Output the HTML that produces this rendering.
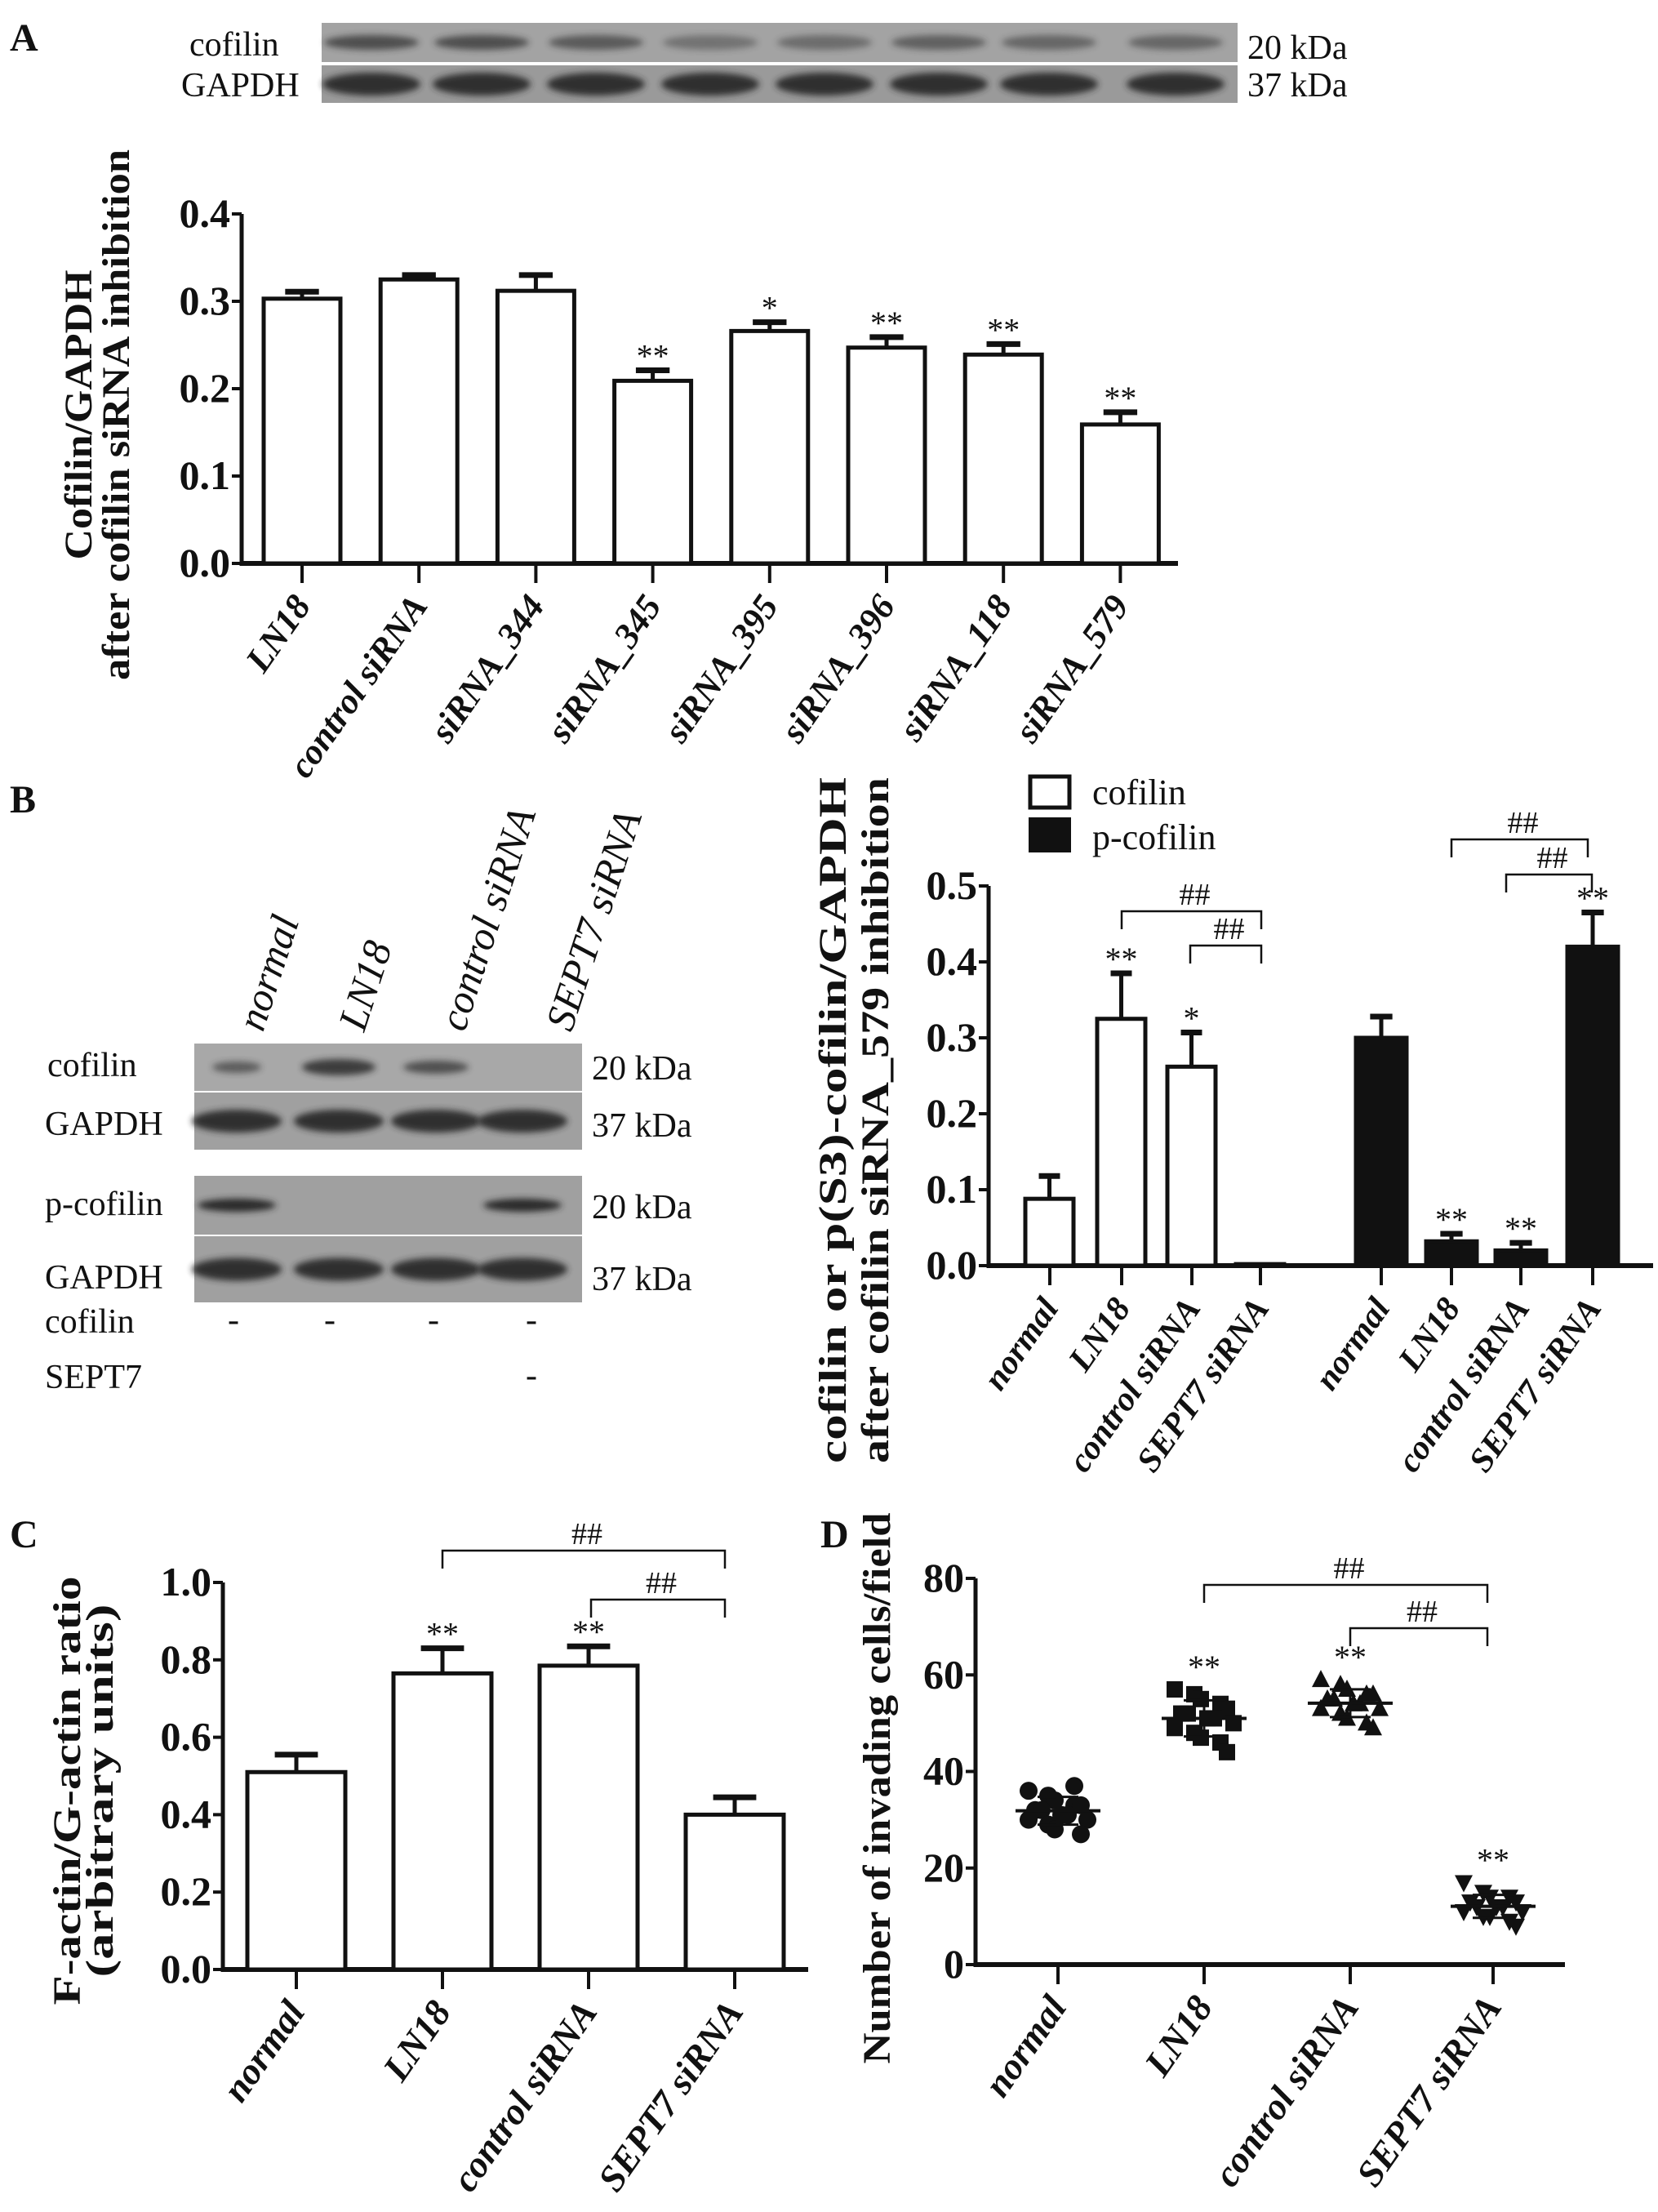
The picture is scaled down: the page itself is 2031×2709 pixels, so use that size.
<!DOCTYPE html>
<html><head><meta charset="utf-8"><style>
html,body{margin:0;padding:0;background:#fff}
svg{display:block}
text{font-family:"Liberation Serif","Times New Roman",serif;fill:#111}
</style></head><body>
<svg id="fig" width="2031" height="2709" viewBox="0 0 2031 2709" xmlns="http://www.w3.org/2000/svg" font-family="Liberation Serif, Times New Roman, serif">
<defs><filter id="blur" x="-20%" y="-50%" width="140%" height="200%"><feGaussianBlur stdDeviation="4"/></filter></defs>
<text x="12" y="62" font-size="48" font-weight="bold">A</text>
<text x="12" y="995" font-size="48" font-weight="bold">B</text>
<text x="12" y="1895" font-size="48" font-weight="bold">C</text>
<text x="1005" y="1895" font-size="48" font-weight="bold">D</text>
<g id="g"></g>
</svg>
<script>
const NS='http://www.w3.org/2000/svg';
const root=document.getElementById('g');
function mk(tag,a,p){const e=document.createElementNS(NS,tag);for(const k in a)e.setAttribute(k,a[k]);(p||root).appendChild(e);return e;}
function tx(s,a,p){const e=mk('text',a,p);e.textContent=s;return e;}

// ---------- data ----------
const catsA=['LN18','control siRNA','siRNA_344','siRNA_345','siRNA_395','siRNA_396','siRNA_118','siRNA_579'];
const valsA=[0.303,0.325,0.312,0.209,0.266,0.247,0.239,0.159];
const errsA=[0.008,0.005,0.018,0.012,0.010,0.012,0.012,0.014];
const sigA=['','','','**','*','**','**','**'];
const ticksA=['0.0','0.1','0.2','0.3','0.4'];

const catsB=['normal','LN18','control siRNA','SEPT7 siRNA'];
const cofB=[0.088,0.325,0.262,0.002];
const cofErrB=[0.030,0.060,0.045,0.0];
const cofSigB=['','**','*',''];
const pcofB=[0.300,0.032,0.020,0.420];
const pcofErrB=[0.028,0.010,0.010,0.045];
const pcofSigB=['','**','**','**'];
const ticksB=['0.0','0.1','0.2','0.3','0.4','0.5'];

const catsC=['normal','LN18','control siRNA','SEPT7 siRNA'];
const valsC=[0.51,0.765,0.785,0.40];
const errsC=[0.045,0.065,0.05,0.045];
const sigC=['','**','**',''];
const ticksC=['0.0','0.2','0.4','0.6','0.8','1.0'];

const catsD=['normal','LN18','control siRNA','SEPT7 siRNA'];
const ptsNormal=[36,35,34,33,33,32,32,31,31,30,30,29,28,37,27];
const ptsLN18=[57,56,55,54,53,52,52,51,51,50,49,48,47,46,44];
const ptsControl=[59,58,57,56,56,55,55,54,54,53,53,52,51,50,49];
const ptsSept7=[17,15,14,14,13,13,12,12,12,11,11,10,10,9,8];
const sigD=['','**','**','**'];
const ticksD=['0','20','40','60','80'];

// ---------- helpers ----------
function yAxis(x,y0,y1,ticks,maxV,fn,name){
  const ax=mk('line',{x1:x,y1:y0+3,x2:x,y2:y1,stroke:'#111','stroke-width':5});
  
  
  ticks.forEach(t=>{const v=parseFloat(t);const y=fn(v);
    const l=mk('line',{x1:x-12,y1:y,x2:x,y2:y,stroke:'#111','stroke-width':4});
    
    
    const s=tx(t,{x:x-14,y:y+16,'font-size':50,'font-weight':'bold','text-anchor':'end'});
    
    
  });
}
function xAxis(x0,x1,y,name){
  const ax=mk('line',{x1:x0,y1:y,x2:x1,y2:y,stroke:'#111','stroke-width':6});
  
  
}
function xTick(cx,y,label,name,fs,ang){
  const l=mk('line',{x1:cx,y1:y,x2:cx,y2:y+24,stroke:'#111','stroke-width':4});
  
  
  const s=tx(label,{x:cx+12,y:y+52,'font-size':fs,'font-weight':'bold','font-style':'italic','text-anchor':'end',transform:`rotate(${ang} ${cx+12} ${y+52})`});
  
  
}
function bar(left,w,v,e,sig,fn,fill,name){
  const y0=fn(0),yt=fn(v),ye=fn(v+e);
  const r=mk('rect',{x:left,y:yt,width:w,height:Math.max(y0-yt,2),fill:fill,stroke:'#111','stroke-width':5});
  
  
  if(e>0){const cx=left+w/2;
    const l=mk('line',{x1:cx,y1:yt,x2:cx,y2:ye,stroke:'#111','stroke-width':5});
    
    
    const c=mk('line',{x1:cx-w*0.22,y1:ye,x2:cx+w*0.22,y2:ye,stroke:'#111','stroke-width':7});
    
    }
  if(sig){const s=tx(sig,{x:left+w/2,y:ye-4,'font-size':40,'text-anchor':'middle'});
    
    }
}
function bracket(x1,x2,y,name){
  const p=mk('path',{d:`M${x1} ${y+22}V${y}H${x2}V${y+22}`,fill:'none',stroke:'#111','stroke-width':2.5});
  
  
  const s=tx('##',{x:(x1+x2)/2+4,y:y-8,'font-size':38,'text-anchor':'middle'});
  
  
}
function ytitle(lines,xs,cy,lens,name){
  lines.forEach((t,i)=>{const s=tx(t,{x:xs[i],y:cy,'font-size':48,'font-weight':'bold','text-anchor':'middle',textLength:lens[i],lengthAdjust:'spacingAndGlyphs',transform:`rotate(-90 ${xs[i]} ${cy})`});
    
    });
}
function blot(x,y,w,h,bands,name,bg){
  const r=mk('rect',{x:x,y:y,width:w,height:h,fill:bg||'#999'});
  
  
  bands.forEach(b=>{const e=mk('ellipse',{cx:b[0],cy:y+h/2,rx:b[1],ry:b[2],fill:'#2a2a2a',opacity:b[3],filter:'url(#blur)'});
    
    });
}
function lbl(s,x,y,fs,anchor,name){const t=tx(s,{x:x,y:y,'font-size':fs,'text-anchor':anchor||'start'});
  
  return t;}

// ---------- Panel A blot ----------
const lanesA=[455,590,730,870,1010,1150,1285,1440];
const cofInt=[0.7,0.7,0.6,0.4,0.45,0.55,0.5,0.5];
blot(394,28,1122,48,lanesA.map((c,i)=>[c,58,9,cofInt[i]]),'a-cofilin','#a3a3a3');
blot(394,80,1122,46,lanesA.map(c=>[c,60,14,0.95]),'a-gapdh','#9a9a9a');
lbl('cofilin',232,68,42,'start','a-cofilin-label');
lbl('GAPDH',222,118,42,'start','a-gapdh-label');
lbl('20 kDa',1528,72,42,'start','a-cofilin-kda');
lbl('37 kDa',1528,118,42,'start','a-gapdh-kda');

// ---------- Panel A chart ----------
const yA=v=>690-v/0.4*(690-262);
yAxis(296,690,262,ticksA,0.4,yA,'a');
xAxis(296,1443,690,'a');
catsA.forEach((c,i)=>{const left=323+i*143.2;bar(left,94,valsA[i],errsA[i],sigA[i],yA,'#fff','a-'+i);xTick(left+47,690,c,'a',44,-55);});
ytitle(['Cofilin/GAPDH','after cofilin siRNA inhibition'],[112,158],508,[355,650],'a');

// ---------- Panel B blot ----------
const lanesB=[290,415,534,640];
blot(238,1278,475,58,[[290,30,7,0.6],[415,45,10,0.85],[534,40,8,0.7]],'b-cofilin','#a8a8a8');
blot(238,1338,475,70,lanesB.map(c=>[c,55,14,0.95]),'b-gapdh1','#a0a0a0');
blot(238,1440,475,72,[[290,48,8,1],[640,48,8,1]],'b-pcofilin','#a0a0a0');
blot(238,1514,475,81,lanesB.map(c=>[c,55,14,0.95]),'b-gapdh2','#a0a0a0');
lbl('cofilin',58,1318,42,'start','b-cofilin-label');
lbl('GAPDH',55,1390,42,'start','b-gapdh-label');
lbl('p-cofilin',55,1488,42,'start','b-pcofilin-label');
lbl('GAPDH',55,1578,42,'start','b-gapdh2-label');
lbl('20 kDa',725,1322,42,'start','b-kda1');
lbl('37 kDa',725,1392,42,'start','b-kda2');
lbl('20 kDa',725,1492,42,'start','b-kda3');
lbl('37 kDa',725,1580,42,'start','b-kda4');
lbl('cofilin',55,1632,42,'start','b-row-cofilin');
lbl('SEPT7',55,1700,42,'start','b-row-sept7');
[286,404,531,651].forEach(x=>lbl('-',x,1630,42,'middle','b-dash'));
lbl('-',651,1698,42,'middle','b-dash');
[306,430,553,684].forEach((x,i)=>{const t=tx(catsB[i],{x:x+16,y:1265,'font-size':50,'font-style':'italic',transform:`rotate(-72 ${x+16} 1265)`});
  
  });

// ---------- Panel B chart ----------
const yB=v=>1550-v/0.5*(1550-1085);
yAxis(1211,1550,1085,ticksB,0.5,yB,'b');
xAxis(1211,2025,1550,'b');
const cofLeft=[1256,1344,1430,1514], pLeft=[1661,1747,1832,1920];
catsB.forEach((c,i)=>{bar(cofLeft[i],59,cofB[i],cofErrB[i],cofSigB[i],yB,'#fff','b-cofilin-'+i);xTick(cofLeft[i]+30,1550,c,'b',42,-55);});
catsB.forEach((c,i)=>{bar(pLeft[i],62,pcofB[i],pcofErrB[i],pcofSigB[i],yB,'#111','b-pcofilin-'+i);xTick(pLeft[i]+31,1550,c,'b',42,-55);});
bracket(1374,1545,1116,'b-cof-upper');bracket(1458,1545,1158,'b-cof-lower');
bracket(1778,1945,1028,'b-p-upper');bracket(1845,1950,1071,'b-p-lower');
const lg1=mk('rect',{x:1262,y:951,width:48,height:38,fill:'#fff',stroke:'#111','stroke-width':5});


const lg2=mk('rect',{x:1260,y:1001,width:52,height:43,fill:'#111'});


lbl('cofilin',1338,985,44,'start','legend-cofilin');
lbl('p-cofilin',1338,1040,44,'start','legend-pcofilin');
ytitle(['cofilin or p(S3)-cofilin/GAPDH','after cofilin siRNA_579 inhibition'],[1036,1088],1372,[840,840],'b');

// ---------- Panel C ----------
const yC=v=>2412-v*(2412-1938);
yAxis(273,2412,1938,ticksC,1,yC,'c');
xAxis(273,990,2412,'c');
const cLeft=[303,482,661,840];
catsC.forEach((c,i)=>{bar(cLeft[i],120,valsC[i],errsC[i],sigC[i],yC,'#fff','c-'+i);xTick(cLeft[i]+60,2412,c,'c',46,-55);});
bracket(542,888,1899,'c-upper');bracket(724,888,1959,'c-lower');
ytitle(['F-actin/G-actin ratio','(arbitrary units)'],[98,138],2193,[525,457],'c');

// ---------- Panel D ----------
const yD=v=>2406-v/80*(2406-1933);
yAxis(1195,2406,1933,ticksD,80,yD,'d');
xAxis(1195,1917,2406,'d');
const centersD=[1296,1475,1654,1829];
const groupsD=[ptsNormal,ptsLN18,ptsControl,ptsSept7];
const shapes=['circle','square','up','down'];
groupsD.forEach((pts,g)=>{const cx=centersD[g];
  pts.forEach((v,i)=>{const x=cx+((i%5)-2)*16+((i%2)?4:-4);const y=yD(v);let m;
    if(shapes[g]==='circle')m=mk('circle',{cx:x,cy:y,r:11,fill:'#111'});
    else if(shapes[g]==='square')m=mk('rect',{x:x-10,y:y-10,width:20,height:20,fill:'#111'});
    else if(shapes[g]==='up')m=mk('path',{d:`M${x} ${y-12}L${x+11} ${y+9}L${x-11} ${y+9}Z`,fill:'#111'});
    else m=mk('path',{d:`M${x} ${y+12}L${x+11} ${y-9}L${x-11} ${y-9}Z`,fill:'#111'});
    
    });
  const mean=pts.reduce((a,b)=>a+b,0)/pts.length;
  const sd=Math.sqrt(pts.reduce((a,b)=>a+(b-mean)**2,0)/(pts.length-1));
  const ml=mk('line',{x1:cx-52,y1:yD(mean),x2:cx+52,y2:yD(mean),stroke:'#111','stroke-width':4});
  
  
  const eb=mk('path',{d:`M${cx} ${yD(mean-sd)}V${yD(mean+sd)}M${cx-25} ${yD(mean-sd)}H${cx+25}M${cx-25} ${yD(mean+sd)}H${cx+25}`,stroke:'#111','stroke-width':3,fill:'none'});
  
  
  if(sigD[g]){const s=tx(sigD[g],{x:cx,y:yD(Math.max(...pts))-14,'font-size':40,'text-anchor':'middle'});
    
    }
  xTick(cx,2406,catsD[g],'d',46,-55);
});
bracket(1475,1822,1941,'d-upper');bracket(1654,1822,1994,'d-lower');
ytitle(['Number of invading cells/field'],[1090],2190,[675],'d');
</script>
</body></html>
